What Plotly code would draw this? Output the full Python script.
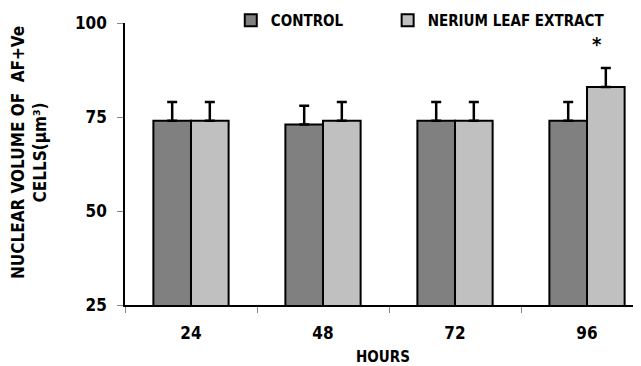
import plotly.graph_objects as go

hours = ["24", "48", "72", "96"]
control = [74, 73, 74, 74]
control_err = [5, 5, 5, 5]
nerium = [74, 74, 74, 83]
nerium_err = [5, 5, 5, 5]
y_ticks = [25, 50, 75, 100]

FONT = "DejaVu Sans Condensed, Liberation Sans, sans-serif"

def f(size):
    return dict(family=FONT, size=size, color="black", weight="bold")

fig = go.Figure()
fig.add_trace(go.Bar(
    name="CONTROL", x=hours, y=control, legend="legend",
    marker=dict(color="#808080", line=dict(color="black", width=2)),
    error_y=dict(type="data", array=control_err, symmetric=False, arrayminus=[0]*4,
                 color="black", thickness=2.5, width=5),
))
fig.add_trace(go.Bar(
    name="NERIUM LEAF EXTRACT", x=hours, y=nerium, legend="legend2",
    marker=dict(color="#C0C0C0", line=dict(color="black", width=2)),
    error_y=dict(type="data", array=nerium_err, symmetric=False, arrayminus=[0]*4,
                 color="black", thickness=2.5, width=5),
))

fig.add_annotation(x=3, y=94.5, xref="x", yref="y", xshift=10, text="*", showarrow=False,
                   font=f(20), yanchor="middle")

# y-axis title as a rotated annotation (placed like the reference)
fig.add_annotation(x=0, y=0.539, xref="paper", yref="paper", xshift=-96,
                   text="NUCLEAR VOLUME OF  AF+Ve<br>CELLS(µm³)", textangle=-90,
                   showarrow=False, font=f(17), xanchor="center", yanchor="middle")

legend_common = dict(orientation="h", y=1.009, xanchor="left", yanchor="middle",
                     font=f(15), itemwidth=30, bgcolor="rgba(0,0,0,0)")

fig.update_layout(
    width=641, height=366,
    margin=dict(l=117, r=8, t=15, b=69, autoexpand=False),
    plot_bgcolor="white", paper_bgcolor="white",
    barmode="group", bargap=0.43, bargroupgap=0,
    font=f(16),
    showlegend=True,
    legend=dict(x=0.205, **legend_common),
    legend2=dict(x=0.509, **legend_common),
    xaxis=dict(
        type="category", range=[-0.5, 3.409], automargin=False,
        showline=True, linecolor="black", linewidth=1.5,
        ticks="outside", tickson="boundaries", ticklen=6, tickcolor="#888888",
        tickfont=f(17), ticklabelstandoff=12,
        title=dict(text="HOURS", font=f(15), standoff=9),
    ),
    yaxis=dict(
        range=[25, 100], tickvals=y_ticks, automargin=False,
        showline=True, linecolor="black", linewidth=1.5,
        ticks="outside", ticklen=6, tickcolor="#888888",
        showgrid=False, zeroline=False,
        tickfont=f(17), ticklabelstandoff=7,
    ),
)

fig.write_html("out.html")
